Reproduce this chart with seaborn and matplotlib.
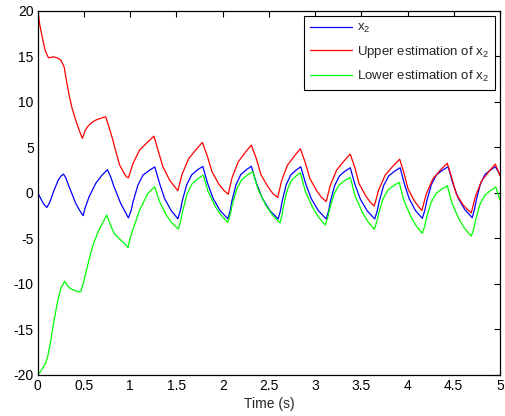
import matplotlib
matplotlib.use("Agg")
import matplotlib.pyplot as plt
import seaborn as sns
import pandas as pd

# ---- data ----
t_x2 = [0.0, 0.03, 0.06, 0.097, 0.13, 0.176, 0.22, 0.25, 0.277, 0.30, 0.338, 0.41, 0.45, 0.49,
        0.51, 0.554, 0.626, 0.69, 0.753, 0.79, 0.824, 0.896, 0.94, 0.98,
        1.01, 1.03, 1.083, 1.137, 1.21, 1.265, 1.317, 1.37, 1.44, 1.515,
        1.542, 1.561, 1.61, 1.664, 1.731, 1.785, 1.836, 1.896, 1.971, 2.055,
        2.081, 2.098, 2.144, 2.195, 2.259, 2.31, 2.365, 2.429, 2.51, 2.60,
        2.625, 2.642, 2.686, 2.735, 2.796, 2.845, 2.897, 2.958, 3.035, 3.12,
        3.146, 3.164, 3.211, 3.263, 3.328, 3.38, 3.43, 3.489, 3.563, 3.645,
        3.672, 3.692, 3.741, 3.796, 3.865, 3.92, 3.966, 4.018, 4.086, 4.16,
        4.188, 4.208, 4.258, 4.314, 4.384, 4.44, 4.489, 4.547, 4.619, 4.70,
        4.725, 4.743, 4.788, 4.838, 4.90, 4.95, 5.0]
x2 = [0.0, -0.6, -1.2, -1.6, -1.0, 0.3, 1.4, 1.85, 2.06, 1.7, 0.67, -1.15, -1.9, -2.5,
      -1.7, -0.43, 1.04, 1.9, 2.55, 1.7, 0.67, -1.15, -2.0, -2.75,
      -1.9, -0.97, 0.86, 1.95, 2.5, 2.85, 1.04, -0.6, -1.9, -2.85,
      -1.93, -0.95, 0.89, 1.98, 2.56, 2.9, 1.06, -0.61, -1.93, -2.85,
      -1.93, -0.95, 0.9, 2.0, 2.57, 2.92, 1.07, -0.6, -1.95, -2.87,
      -1.95, -0.98, 0.86, 1.95, 2.52, 2.87, 1.03, -0.63, -1.95, -2.87,
      -1.97, -1.0, 0.79, 1.86, 2.42, 2.76, 0.96, -0.68, -1.97, -2.87,
      -1.97, -1.0, 0.79, 1.86, 2.42, 2.76, 0.97, -0.64, -1.95, -2.8,
      -1.88, -0.9, 0.92, 2.0, 2.53, 2.87, 1.08, -0.55, -1.83, -2.73,
      -1.8, -0.83, 0.96, 2.02, 2.53, 2.87, 2.0]

t_upper = [0.0, 0.02, 0.05, 0.08, 0.115, 0.145, 0.175, 0.215, 0.248, 0.284, 0.31, 0.338, 0.37, 0.41, 0.45, 0.482,
           0.51, 0.537, 0.58, 0.626, 0.68, 0.734, 0.77, 0.806, 0.83, 0.885, 0.93, 0.958, 0.98,
           1.03, 1.10, 1.19, 1.256, 1.30, 1.353, 1.426, 1.47, 1.515,
           1.56, 1.63, 1.715, 1.78, 1.833, 1.885, 1.96, 2.01, 2.06,
           2.102, 2.168, 2.248, 2.31, 2.364, 2.415, 2.495, 2.545, 2.595,
           2.637, 2.70, 2.78, 2.84, 2.893, 2.944, 3.022, 3.07, 3.12,
           3.164, 3.232, 3.315, 3.38, 3.43, 3.476, 3.55, 3.595, 3.64,
           3.687, 3.758, 3.846, 3.915, 3.96, 4.004, 4.071, 4.115, 4.155,
           4.202, 4.273, 4.361, 4.43, 4.48, 4.526, 4.60, 4.645, 4.69,
           4.734, 4.802, 4.885, 4.95, 5.0]
upper = [20.0, 18.5, 16.96, 15.6, 14.83, 14.9, 14.94, 14.8, 14.58, 13.84, 12.3, 10.73, 9.3, 7.99, 6.8, 5.98,
         6.8, 7.26, 7.7, 7.99, 8.2, 8.35, 7.2, 5.98, 5.06, 3.05, 2.2, 1.77, 1.66,
         3.24, 4.7, 5.6, 6.23, 4.7, 2.87, 1.4, 0.8, 0.25,
         2.03, 3.73, 4.8, 5.54, 4.06, 2.3, 0.93, 0.3, -0.15,
         1.69, 3.41, 4.5, 5.25, 3.75, 1.97, 0.59, -0.1, -0.5,
         1.32, 3.03, 4.1, 4.85, 3.34, 1.55, 0.15, -0.5, -0.95,
         0.82, 2.49, 3.53, 4.26, 2.78, 1.0, -0.36, -1.0, -1.45,
         0.3, 1.95, 2.98, 3.7, 2.24, 0.49, -0.85, -1.45, -1.93,
         -0.15, 1.52, 2.57, 3.25, 1.6, -0.1, -1.3, -1.8, -2.2,
         -0.41, 1.32, 2.4, 3.16, 1.9]

t_lower = [0.0, 0.03, 0.06, 0.086, 0.11, 0.14, 0.165, 0.195, 0.22, 0.248, 0.29, 0.315, 0.338, 0.39, 0.435, 0.464,
           0.49, 0.518, 0.545, 0.572, 0.605, 0.645, 0.69, 0.745, 0.785, 0.824, 0.896, 0.94, 0.975,
           1.0, 1.03, 1.058, 1.10, 1.12, 1.19, 1.264, 1.317, 1.39, 1.45, 1.52,
           1.547, 1.566, 1.615, 1.669, 1.736, 1.79, 1.843, 1.922, 1.983, 2.055,
           2.082, 2.101, 2.15, 2.204, 2.271, 2.325, 2.384, 2.472, 2.54, 2.62,
           2.642, 2.657, 2.697, 2.741, 2.796, 2.84, 2.894, 2.975, 3.037, 3.11,
           3.137, 3.156, 3.205, 3.259, 3.326, 3.38, 3.432, 3.51, 3.57, 3.64,
           3.667, 3.686, 3.735, 3.789, 3.856, 3.91, 3.96, 4.035, 4.093, 4.16,
           4.187, 4.206, 4.255, 4.309, 4.376, 4.43, 4.482, 4.56, 4.62, 4.69,
           4.717, 4.735, 4.783, 4.836, 4.902, 4.955, 5.0]
lower = [-20.0, -19.6, -19.1, -18.7, -17.8, -16.2, -14.6, -12.9, -11.6, -10.5, -9.7, -10.1, -10.4, -10.7, -10.85, -10.85,
         -10.0, -8.84, -7.7, -6.6, -5.5, -4.45, -3.5, -2.44, -3.5, -4.45, -5.18, -5.6, -6.0,
         -4.9, -4.0, -3.17, -1.9, -1.5, -0.05, 0.67, -0.97, -2.44, -3.3, -3.97,
         -3.02, -2.02, -0.12, 1.0, 1.59, 1.95, 0.13, -1.53, -2.46, -3.24,
         -2.35, -1.41, 0.37, 1.43, 1.99, 2.32, 0.35, -1.45, -2.46, -3.3,
         -2.42, -1.49, 0.28, 1.32, 1.87, 2.2, 0.19, -1.64, -2.67, -3.53,
         -2.69, -1.8, -0.13, 0.86, 1.39, 1.7, -0.3, -2.12, -3.15, -4.0,
         -3.18, -2.3, -0.65, 0.33, 0.84, 1.15, -0.81, -2.6, -3.61, -4.45,
         -3.61, -2.72, -1.05, -0.06, 0.47, 0.78, -1.17, -2.96, -3.94, -4.75,
         -3.94, -3.02, -1.29, -0.26, 0.28, 0.64, -0.8]

labels = ["x$_2$", "Upper estimation of x$_2$", "Lower estimation of x$_2$"]
colors = ["#0000ff", "#ff0000", "#00ff00"]
x_ticks = [0, 0.5, 1, 1.5, 2, 2.5, 3, 3.5, 4, 4.5, 5]
y_ticks = [-20, -15, -10, -5, 0, 5, 10, 15, 20]

df = pd.concat([
    pd.DataFrame({"t": t_x2, "v": x2, "series": labels[0]}),
    pd.DataFrame({"t": t_upper, "v": upper, "series": labels[1]}),
    pd.DataFrame({"t": t_lower, "v": lower, "series": labels[2]}),
], ignore_index=True)

sns.set_style("white")
plt.rcParams["font.family"] = ["Liberation Sans", "DejaVu Sans"]
plt.rcParams["axes.unicode_minus"] = False
plt.rcParams["mathtext.fontset"] = "custom"
plt.rcParams["mathtext.rm"] = "Liberation Sans"
plt.rcParams["mathtext.it"] = "Liberation Sans"

fig = plt.figure(figsize=(5.05, 4.16), dpi=100)
ax = fig.add_axes([0.075, 0.0986, 0.915, 0.8755])

sns.lineplot(data=df, x="t", y="v", hue="series", hue_order=labels,
             palette=dict(zip(labels, colors)), estimator=None, sort=False,
             linewidth=0.9, ax=ax, legend=False)

ax.set_xlim(0, 5)
ax.set_ylim(-20, 20)
ax.set_xticks(x_ticks)
ax.set_xticklabels([f"{v:g}" for v in x_ticks])
ax.set_yticks(y_ticks)
ax.set_yticklabels([f"{v:g}" for v in y_ticks])
ax.tick_params(direction="in", length=4, width=0.8, top=True, right=True,
               labelsize=10, colors="black", pad=3)
for s in ax.spines.values():
    s.set_visible(True)
    s.set_color("black")
    s.set_linewidth(0.9)
ax.set_xlabel("Time (s)", fontsize=10, labelpad=3)
ax.set_ylabel("")

leg = ax.legend(ax.get_lines()[:3], labels, loc="upper right", fontsize=9.5,
                frameon=True, fancybox=False, framealpha=1, edgecolor="black",
                borderaxespad=0.4, handlelength=3.2, handletextpad=0.35,
                labelspacing=0.65, borderpad=0.45)
leg.get_frame().set_linewidth(0.8)

fig.savefig("out.png", dpi=100)
